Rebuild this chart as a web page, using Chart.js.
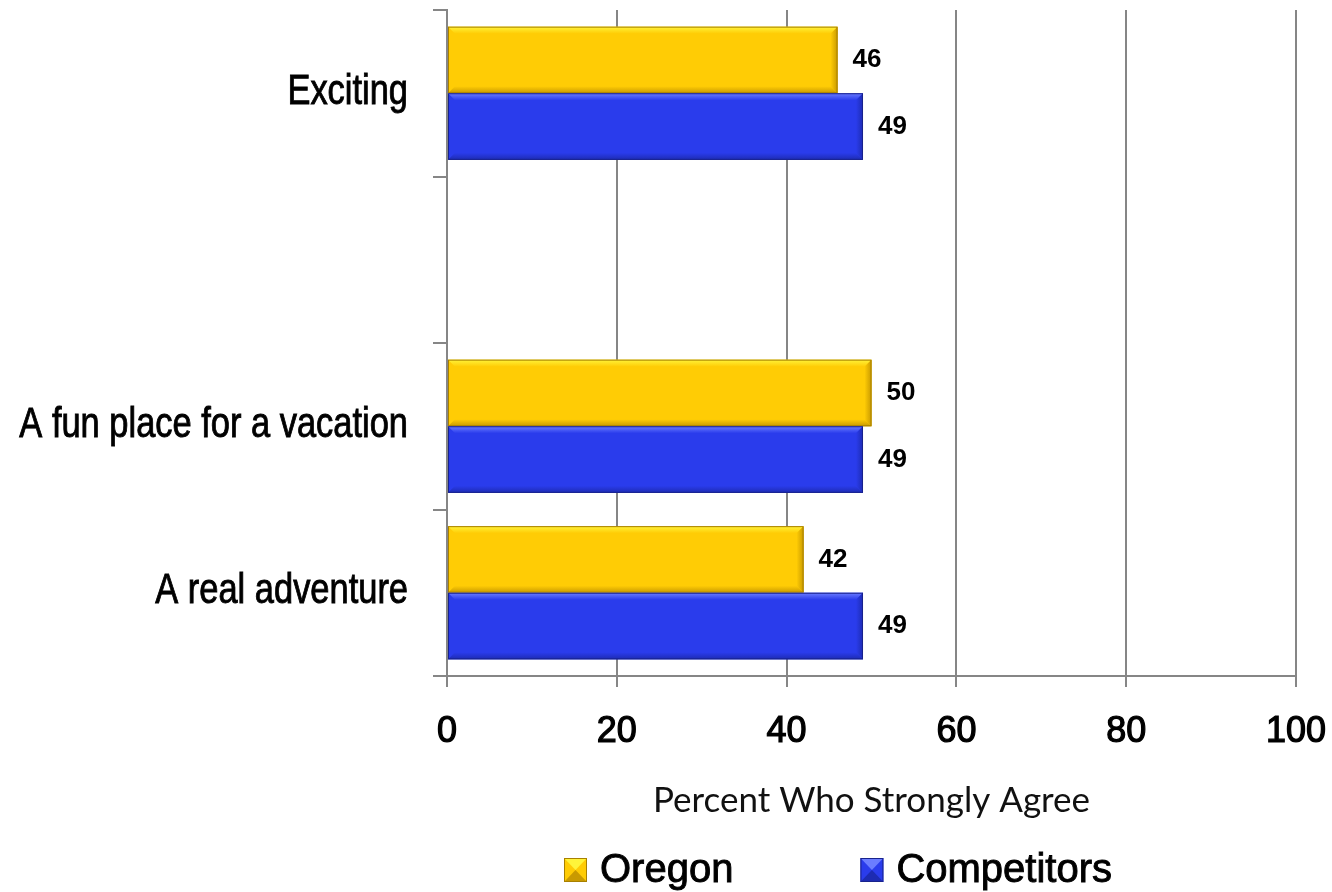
<!DOCTYPE html>
<html>
<head>
<meta charset="utf-8">
<title>Percent Who Strongly Agree</title>
<script src="https://cdn.jsdelivr.net/npm/chart.js@4.4.1/dist/chart.umd.min.js"></script>
<style>
  html, body { margin: 0; padding: 0; background: #fff; }
  #myChart { display: block; }
</style>
</head>
<body>
<canvas id="myChart" width="1332" height="892"></canvas>
<script>
// 項目（空欄は区切り用）
const categories = ["Exciting", "", "A fun place for a vacation", "A real adventure"];
const oregon = [46, null, 50, 42];
const competitors = [49, null, 49, 49];
const seriesNames = ["Oregon", "Competitors"];
const percentTicks = [0, 20, 40, 60, 80, 100];

const ARIAL = '"Liberation Sans", Arial, sans-serif';
const NARROW_SCALE = 0.82; // Arial Narrow 相当に横を詰める

const palette = {
    Oregon:      { fill: "#FFCC05", light: "#FFF43A", dark: "#C99A00", edge: "#A88000" },
    Competitors: { fill: "#2A3CEC", light: "#6B7DFF", dark: "#1D2BB2", edge: "#18228C" },
};

// 立体風のバー（Excelのベベル風）
const bevelBars = {
    id: "bevelBars",
    afterDatasetsDraw(chart) {
        const ctx = chart.ctx;
        chart.data.datasets.forEach((ds, i) => {
            const c = palette[ds.label];
            chart.getDatasetMeta(i).data.forEach((bar, j) => {
                if (ds.data[j] == null) return;
                const p = bar.getProps(["x", "y", "base", "height"], true);
                const left = p.base, right = p.x;
                const top = p.y - p.height / 2, bot = p.y + p.height / 2;
                const b = 7;
                ctx.save();
                let g = ctx.createLinearGradient(0, top, 0, top + b);
                g.addColorStop(0, c.light);
                g.addColorStop(1, c.fill);
                ctx.fillStyle = g;
                ctx.beginPath();
                ctx.moveTo(left, top); ctx.lineTo(right, top);
                ctx.lineTo(right - b, top + b); ctx.lineTo(left + b, top + b);
                ctx.closePath(); ctx.fill();

                g = ctx.createLinearGradient(0, bot - b, 0, bot);
                g.addColorStop(0, c.fill);
                g.addColorStop(1, c.dark);
                ctx.fillStyle = g;
                ctx.beginPath();
                ctx.moveTo(left, bot); ctx.lineTo(right, bot);
                ctx.lineTo(right - b, bot - b); ctx.lineTo(left + b, bot - b);
                ctx.closePath(); ctx.fill();

                g = ctx.createLinearGradient(right - b, 0, right, 0);
                g.addColorStop(0, c.fill);
                g.addColorStop(1, c.dark);
                ctx.fillStyle = g;
                ctx.beginPath();
                ctx.moveTo(right, top); ctx.lineTo(right, bot);
                ctx.lineTo(right - b, bot - b); ctx.lineTo(right - b, top + b);
                ctx.closePath(); ctx.fill();

                ctx.strokeStyle = c.edge;
                ctx.lineWidth = 1;
                ctx.strokeRect(left + 0.5, top + 0.5, right - left - 1, bot - top - 1);
                ctx.restore();
            });
        });
    },
};

// バー右側の数値
const valueLabels = {
    id: "valueLabels",
    afterDatasetsDraw(chart) {
        const ctx = chart.ctx;
        ctx.save();
        ctx.font = "bold 26px " + ARIAL;
        ctx.fillStyle = "#000";
        ctx.textBaseline = "middle";
        ctx.textAlign = "left";
        chart.data.datasets.forEach((ds, i) => {
            chart.getDatasetMeta(i).data.forEach((bar, j) => {
                if (ds.data[j] == null) return;
                ctx.fillText(String(ds.data[j]), bar.x + 15, bar.y);
            });
        });
        ctx.restore();
    },
};

// 縦軸の項目名（細めの字形）
const categoryLabels = {
    id: "categoryLabels",
    afterDraw(chart) {
        const ctx = chart.ctx;
        const yScale = chart.scales.y;
        const right = chart.chartArea.left - 14 - 25;
        ctx.save();
        ctx.font = "42px " + ARIAL;
        ctx.fillStyle = "#000";
        ctx.strokeStyle = "#000";
        ctx.lineWidth = 0.9;
        ctx.textAlign = "right";
        ctx.textBaseline = "middle";
        categories.forEach((label, i) => {
            if (!label) return;
            ctx.save();
            ctx.translate(right, yScale.getPixelForTick(i) - 1);
            ctx.scale(NARROW_SCALE, 1);
            ctx.fillText(label, 0, 0);
            ctx.strokeText(label, 0, 0);
            ctx.restore();
        });
        ctx.restore();
    },
};

// 凡例（下部）
const legendRow = {
    id: "legendRow",
    afterDraw(chart) {
        const ctx = chart.ctx;
        const area = chart.chartArea;
        const bw = 23, bh = 24, gap = 13, spacing = 127;
        const baseline = 882;
        ctx.save();
        ctx.font = "40px " + ARIAL;
        let x = area.left + 117;
        seriesNames.forEach((name) => {
            const c = palette[name];
            const bx = x, by = 858;
            ctx.fillStyle = c.fill;
            ctx.fillRect(bx, by, bw, bh);
            ctx.fillStyle = c.light;
            ctx.beginPath();
            ctx.moveTo(bx, by); ctx.lineTo(bx + bw, by); ctx.lineTo(bx + bw / 2, by + bh / 2);
            ctx.closePath(); ctx.fill();
            ctx.fillStyle = c.dark;
            ctx.beginPath();
            ctx.moveTo(bx, by + bh); ctx.lineTo(bx + bw, by + bh); ctx.lineTo(bx + bw / 2, by + bh / 2);
            ctx.closePath(); ctx.fill();
            ctx.strokeStyle = c.edge;
            ctx.lineWidth = 1;
            ctx.strokeRect(bx + 0.5, by + 0.5, bw - 1, bh - 1);

            ctx.fillStyle = "#000";
            ctx.strokeStyle = "#000";
            ctx.lineWidth = 0.9;
            ctx.textBaseline = "alphabetic";
            ctx.textAlign = "left";
            ctx.fillText(name, bx + bw + gap, baseline);
            ctx.strokeText(name, bx + bw + gap, baseline);
            x += bw + gap + ctx.measureText(name).width + spacing;
        });
        ctx.restore();
    },
};

const ctx = document.getElementById("myChart").getContext("2d");
const myChart = new Chart(ctx, {
    type: "bar",
    data: {
        labels: categories,
        datasets: [
            { label: seriesNames[0], data: oregon, backgroundColor: palette.Oregon.fill, borderWidth: 0 },
            { label: seriesNames[1], data: competitors, backgroundColor: palette.Competitors.fill, borderWidth: 0 },
        ],
    },
    options: {
        indexAxis: "y",
        responsive: false,
        animation: false,
        devicePixelRatio: 1,
        layout: { padding: { top: 10, right: 36, bottom: 0, left: 0 } },
        datasets: { bar: { categoryPercentage: 0.8, barPercentage: 1.0 } },
        plugins: {
            legend: { display: false },
            tooltip: { enabled: false },
        },
        scales: {
            x: {
                min: percentTicks[0],
                max: percentTicks[percentTicks.length - 1],
                afterBuildTicks(scale) {
                    scale.ticks = percentTicks.map((v) => ({ value: v }));
                },
                afterFit(scale) {
                    scale.height = 216;
                    scale.paddingLeft = 0;
                    scale.paddingRight = 0;
                },
                ticks: {
                    color: "#000",
                    padding: 23,
                    textStrokeColor: "#000",
                    textStrokeWidth: 1.2,
                    font: { family: ARIAL, size: 36 },
                },
                grid: { color: "#868686", lineWidth: 2, tickLength: 11 },
                border: { color: "#868686", width: 2 },
                title: {
                    display: true,
                    text: "Percent Who Strongly Agree",
                    color: "#111",
                    font: { family: "Lato, 'Noto Sans', sans-serif", size: 35 },
                    padding: { top: 0, bottom: 70 },
                },
            },
            y: {
                afterFit(scale) {
                    scale.width = 447;
                    scale.paddingTop = 0;
                    scale.paddingBottom = 0;
                },
                ticks: { display: false },
                grid: { drawOnChartArea: false, offset: true, color: "#868686", lineWidth: 2, tickLength: 14 },
                border: { color: "#868686", width: 2 },
            },
        },
    },
    plugins: [bevelBars, valueLabels, categoryLabels, legendRow],
});
</script>
</body>
</html>
